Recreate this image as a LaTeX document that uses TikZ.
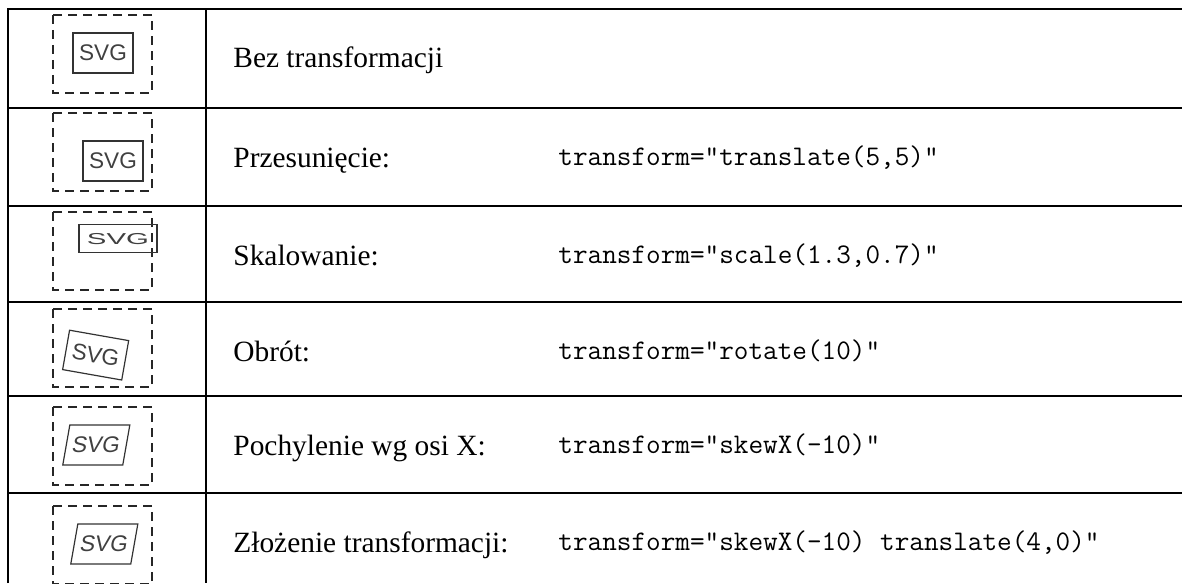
\documentclass[tikz,border=0pt]{standalone}
\usepackage{fontspec}
\setmainfont{Liberation Serif}
\newfontfamily\svgfont{Liberation Sans}

\tikzset{
  opis/.style={anchor=base west,inner sep=0pt,font=\fontsize{14.7}{17}\selectfont},
  kod/.style={anchor=base west,inner sep=0pt,font=\ttfamily\fontsize{14.2}{16}\selectfont},
  ramka/.style={black!85,line width=0.85pt,dash pattern=on 4.5pt off 3pt},
  svgbox/.style={draw=black!80,text=black!75,line width=0.6pt,minimum width=30pt,
    minimum height=20pt,inner sep=0pt,transform shape,font=\svgfont\fontsize{11.3}{13}\selectfont}
}

\begin{document}
\begin{tikzpicture}[x=0.5pt,y=0.5pt]
      \useasboundingbox (0,0) rectangle (1182,-583);
      % table lines
      \draw [black,line width=1pt] (8,-583) -- (8,-9) -- (1182,-9);
      \draw [black,line width=1pt] (206,-9) -- (206,-583);
      \draw [black,line width=1pt] (8,-108) -- (1182,-108);
      \draw [black,line width=1pt] (8,-206) -- (1182,-206);
      \draw [black,line width=1pt] (8,-302) -- (1182,-302);
      \draw [black,line width=1pt] (8,-396) -- (1182,-396);
      \draw [black,line width=1pt] (8,-493) -- (1182,-493);
      % texts
      \node [opis] (opis1) at (233,-68) {Bez transformacji};
      \node [opis] (opis2) at (233,-167) {Przesunięcie:};
      \node [kod] (kod2) at (558,-165) {transform="translate(5,5)"};
      \node [opis] (opis3) at (233,-265) {Skalowanie:};
      \node [kod] (kod3) at (558,-263) {transform="scale(1.3,0.7)"};
      \node [opis] (opis4) at (233,-361) {Obrót:};
      \node [kod] (kod4) at (558,-359) {transform="rotate(10)"};
      \node [opis] (opis5) at (233,-455) {Pochylenie wg osi X:};
      \node [kod] (kod5) at (558,-453) {transform="skewX(-10)"};
      \node [opis] (opis6) at (233,-552) {Złożenie transformacji:};
      \node [kod] (kod6) at (558,-550) {transform="skewX(-10) translate(4,0)"};
      % svg pictures
      \begin{scope}[shift={(53,-15)},x=1pt,y=1pt]
        \draw [ramka] (0,0) rectangle (49.5,-39);
        \node [svgbox] (svg1) at (25,-19) {SVG};
      \end{scope}
      \begin{scope}[shift={(53,-113)},x=1pt,y=1pt]
        \draw [ramka] (0,0) rectangle (49.5,-39);
        \begin{scope}[shift={(5,-5)}]
          \node [svgbox] (svg2) at (25,-19) {SVG};
        \end{scope}
      \end{scope}
      \begin{scope}[shift={(53,-212)},x=1pt,y=1pt]
        \draw [ramka] (0,0) rectangle (49.5,-39);
        \begin{scope}[xscale=1.3,yscale=0.7]
          \node [svgbox] (svg3) at (25,-19) {SVG};
        \end{scope}
      \end{scope}
      \begin{scope}[shift={(53,-309)},x=1pt,y=1pt]
        \draw [ramka] (0,0) rectangle (49.5,-39);
        \begin{scope}[rotate=-10]
          \node [svgbox] (svg4) at (25,-19) {SVG};
        \end{scope}
      \end{scope}
      \begin{scope}[shift={(53,-407)},x=1pt,y=1pt]
        \draw [ramka] (0,0) rectangle (49.5,-39);
        \begin{scope}[xslant=0.1763]
          \node [svgbox] (svg5) at (25,-19) {SVG};
        \end{scope}
      \end{scope}
      \begin{scope}[shift={(53,-506)},x=1pt,y=1pt]
        \draw [ramka] (0,0) rectangle (49.5,-39);
        \begin{scope}[xslant=0.1763,shift={(4,0)}]
          \node [svgbox] (svg6) at (25,-19) {SVG};
        \end{scope}
      \end{scope}
    \end{tikzpicture}
\end{document}
